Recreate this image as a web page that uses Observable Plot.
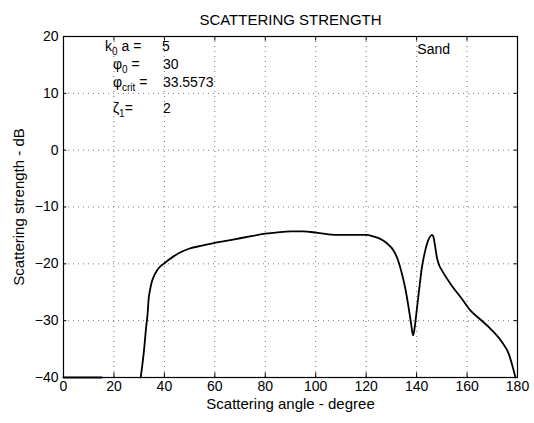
<!DOCTYPE html>
<html><head><meta charset="utf-8">
<script src="https://cdn.jsdelivr.net/npm/d3@7"></script>
<script src="https://cdn.jsdelivr.net/npm/@observablehq/plot@0.6"></script>
<style>html,body{margin:0;padding:0;background:#fff}</style>
</head><body><div id="chart"></div>
<script>
// Scattering angle (degree) and scattering strength (dB); null marks a gap in the curve
const angle = [0, 15.2, 20,
  30.6, 31.9, 32.8, 33.3, 33.8, 34.3, 35.0, 35.9, 37.0, 38.5, 40, 42.3, 46.2, 50, 55, 60, 65, 70, 75, 80, 85, 90, 95,
  100, 105, 110, 115, 120, 123, 125.6, 128, 130.9, 132.5, 134.2, 135.5, 136.8, 137.8, 138.6,
  139.3, 140.2, 141.2, 142.1, 143.1, 144.1, 145.2, 146.1, 146.7, 147.3, 148.1, 149, 150.1,
  153.4, 158.0, 161.3, 165.3, 169.9, 173.9, 176.5, 178.5, 179.2];
const strength = [-40, -40, null,
  -40, -35.3, -31.0, -29.0, -26.0, -24.6, -23.2, -22.1, -21.2, -20.4, -19.9, -19.1, -18.0, -17.3, -16.8, -16.3, -15.9, -15.5, -15.1, -14.7, -14.45, -14.3, -14.3,
  -14.5, -14.8, -14.9, -14.9, -14.9, -15.2, -15.6, -16.3, -17.7, -19.2, -21.8, -24.3, -27.6, -30.5, -32.6,
  -31.0, -27.6, -23.8, -20.6, -18.3, -16.5, -15.3, -14.9, -15.3, -16.8, -19.0, -20.3, -21.2,
  -23.5, -26.2, -28.2, -29.8, -31.7, -33.8, -35.8, -38.8, -40];

const xTicks = [0, 20, 40, 60, 80, 100, 120, 140, 160, 180];
const yTicks = [20, 10, 0, -10, -20, -30, -40];

const chartTitle = "SCATTERING STRENGTH";
const xLabel = "Scattering angle - degree";
const yLabel = "Scattering strength - dB";

// Parameter annotation (label with _subscripts, value)
const annoLabels = ["k_0 a =", "φ_0 =", "φ_{crit} =", "ζ_1="];
const annoLabelX = [16.5, 19.6, 19.6, 19.6];
const annoValues = ["5", "30", "33.5573", "2"];
const annoValueX = [39.1, 39.4, 39.4, 39.4];
const annoY = [18.2, 15.1, 11.9, 7.4];
const materialText = ["Sand"];
const materialX = [140.3];
const materialY = [17.7];

const curve = angle.map((a, i) => ({angle: a, strength: strength[i]}));
const labels = annoLabels.map((t, i) => ({t, x: annoLabelX[i], y: annoY[i]}));
const values = annoValues.map((t, i) => ({t, x: annoValueX[i], y: annoY[i]}));
const material = materialText.map((t, i) => ({t, x: materialX[i], y: materialY[i]}));
const innerX = xTicks.slice(1, -1);
const innerY = yTicks.slice(1, -1);

const plot = Plot.plot({
  width: 534,
  height: 423,
  marginLeft: 63,
  marginRight: 17,
  marginTop: 36,
  marginBottom: 46,
  style: {fontFamily: "'Liberation Sans', Arial, sans-serif", fontSize: "14px", color: "black", background: "white"},
  x: {domain: [0, 180]},
  y: {domain: [-40, 20]},
  marks: [
    Plot.gridX(innerX, {stroke: "#555", strokeOpacity: 0.8, strokeDasharray: "1,4"}),
    Plot.gridY(innerY, {stroke: "#555", strokeOpacity: 0.8, strokeDasharray: "1,4"}),
    Plot.ruleX(innerX, {x: d => d, y1: -40, y2: -39.2, stroke: "black"}),
    Plot.ruleX(innerX, {x: d => d, y1: 20, y2: 19.2, stroke: "black"}),
    Plot.ruleY(innerY, {y: d => d, x1: 0, x2: 1.3, stroke: "black"}),
    Plot.ruleY(innerY, {y: d => d, x1: 180, x2: 178.7, stroke: "black"}),
    Plot.frame({stroke: "black", strokeWidth: 1.2}),
    Plot.axisX({ticks: xTicks, tickSize: 0, tickPadding: 4, label: null, fontSize: 14}),
    Plot.axisY({ticks: yTicks, tickSize: 0, tickPadding: 5, label: null, fontSize: 14}),
    Plot.line(curve, {x: "angle", y: "strength", stroke: "black", strokeWidth: 1.8, curve: "monotone-x"}),
    Plot.text(labels, {x: "x", y: "y", text: "t", textAnchor: "start", fontSize: 14, fill: "black"}),
    Plot.text(values, {x: "x", y: "y", text: "t", textAnchor: "start", fontSize: 14, fill: "black"}),
    Plot.text(material, {x: "x", y: "y", text: "t", textAnchor: "start", fontSize: 14, fill: "black"}),
    Plot.text([chartTitle], {frameAnchor: "top", textAnchor: "middle", lineAnchor: "middle", dy: -16, fontSize: 15, fill: "black"}),
    Plot.text([xLabel], {frameAnchor: "bottom", textAnchor: "middle", lineAnchor: "middle", dy: 27, fontSize: 15, fill: "black"}),
    Plot.text([yLabel], {frameAnchor: "left", textAnchor: "middle", lineAnchor: "middle", dx: -44, rotate: -90, fontSize: 15, fill: "black"})
  ]
});

// Turn "_x" / "_{xyz}" into subscript tspans
d3.select(plot).selectAll("text").each(function() {
  if (this.querySelector("tspan")) return;
  const s = this.textContent;
  if (!s.includes("_")) return;
  const parts = s.split(/_(\{[^}]*\}|.)/);
  const sel = d3.select(this);
  sel.text(null);
  let shifted = false;
  parts.forEach((p, i) => {
    if (i % 2 === 0) {
      if (!p) return;
      const t = sel.append("tspan").text(p);
      if (shifted) { t.attr("dy", -4); shifted = false; }
    } else {
      const sub = p.replace(/^\{|\}$/g, "");
      sel.append("tspan").attr("dy", 4).attr("font-size", 10).text(sub);
      shifted = true;
    }
  });
});

document.getElementById("chart").appendChild(plot);
</script>
</body></html>
